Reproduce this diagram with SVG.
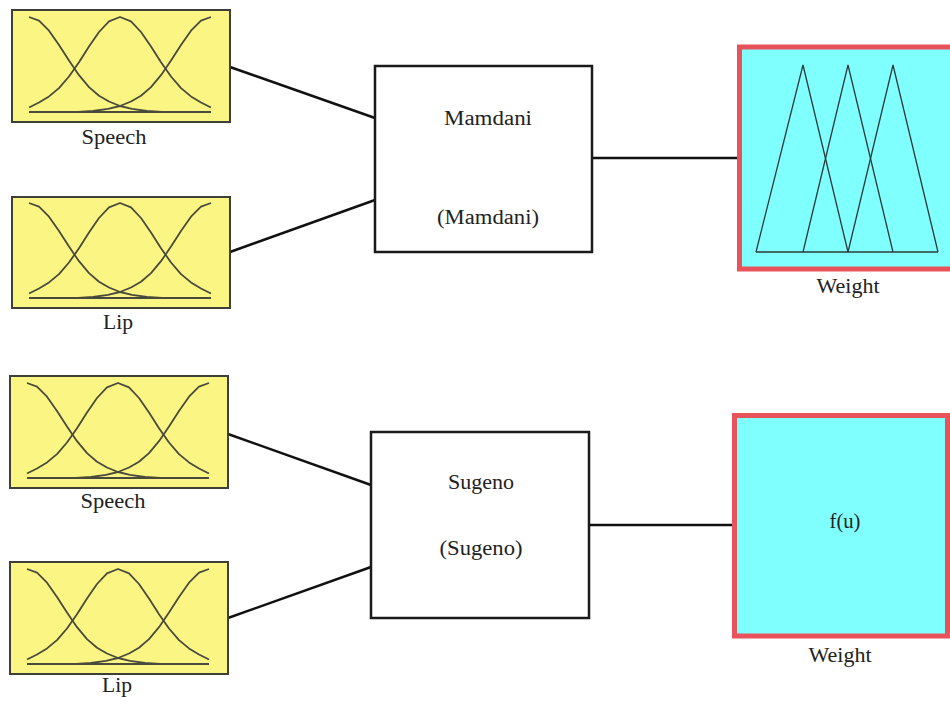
<svg xmlns="http://www.w3.org/2000/svg" xmlns:xlink="http://www.w3.org/1999/xlink" width="950" height="704" viewBox="0 0 950 704">
<style>
  .inbox { fill: #FBF684; stroke: #3f3f3a; stroke-width: 2; }
  .mf { fill: none; stroke: #4a4a3c; stroke-width: 1.8; stroke-linejoin: round; }
  .sys { fill: #ffffff; stroke: #1a1a1a; stroke-width: 2.5; }
  .out { fill: #80FFFF; stroke: #E8535B; stroke-width: 5; }
  .tri { fill: none; stroke: #2a3a3a; stroke-width: 1.3; stroke-linejoin: miter; }
  .conn { stroke: #111; stroke-width: 2.5; fill: none; }
  .lbl { font-family: "Liberation Serif", "Times New Roman", serif; font-size: 20.5px; fill: #222; text-anchor: middle; }
</style>
<defs>
  <g id="gauss3">
    <polyline class="mf" points="17,102 199,102"/>
    <polyline class="mf" points="17,97.5 27,92.5 37,86.4 47,78.1 57,66.5 67,52.2 77,36.5 87,22 97,11.4 108,7 119,11.4 129,22 139,36.5 149,52.2 159,66.5 169,78.1 179,86.4 189,92.5 199,97.5"/>
    <polyline class="mf" points="17,7 27,10.6 37,20.7 47,35 57,50.6 67,65.2 77,77.1 87,85.7 97,91.5 108,96 120,98.8 135,101 150,102 199,102"/>
    <polyline class="mf" points="199,7 189,10.6 179,20.7 169,35 159,50.6 149,65.2 139,77.1 129,85.7 119,91.5 108,96 96,98.8 81,101 66,102 17,102"/>
  </g>
</defs>

<g id="connectors">
  <line class="conn" x1="230" y1="67" x2="375" y2="118"/>
  <line class="conn" x1="230" y1="252" x2="375" y2="200"/>
  <line class="conn" x1="592" y1="158" x2="737" y2="158" stroke-width="2"/>
  <line class="conn" x1="228" y1="434" x2="371" y2="485"/>
  <line class="conn" x1="228" y1="618" x2="371" y2="567"/>
  <line class="conn" x1="589" y1="525" x2="732" y2="525" stroke-width="2"/>
</g>

<g id="speech1">
  <rect class="inbox" x="12" y="10" width="218" height="112"/>
  <use xlink:href="#gauss3" href="#gauss3" x="12" y="10"/>
  <text class="lbl" x="114" y="144" textLength="65" lengthAdjust="spacingAndGlyphs">Speech</text>
</g>

<g id="lip1">
  <rect class="inbox" x="12" y="197" width="218" height="111"/>
  <use xlink:href="#gauss3" href="#gauss3" x="12" y="196"/>
  <text class="lbl" x="118" y="329" textLength="30" lengthAdjust="spacingAndGlyphs">Lip</text>
</g>

<g id="mamdani">
  <rect class="sys" x="375" y="66" width="217" height="186"/>
  <text class="lbl" x="488" y="125" textLength="88" lengthAdjust="spacingAndGlyphs">Mamdani</text>
  <text class="lbl" x="488" y="224" textLength="102" lengthAdjust="spacingAndGlyphs">(Mamdani)</text>
</g>

<g id="weight1">
  <rect class="out" x="739.5" y="47" width="220" height="222"/>
  <polyline class="tri" points="756,252 803,65 848,252"/>
  <polyline class="tri" points="803,252 848,65 893,252"/>
  <polyline class="tri" points="848,252 893,65 938,252"/>
  <line class="tri" x1="756" y1="252" x2="938" y2="252"/>
  <text class="lbl" x="848" y="293" textLength="63" lengthAdjust="spacingAndGlyphs">Weight</text>
</g>

<g id="speech2">
  <rect class="inbox" x="10" y="376" width="218" height="112"/>
  <use xlink:href="#gauss3" href="#gauss3" x="10" y="376"/>
  <text class="lbl" x="113" y="508" textLength="65" lengthAdjust="spacingAndGlyphs">Speech</text>
</g>

<g id="lip2">
  <rect class="inbox" x="10" y="562" width="218" height="112"/>
  <use xlink:href="#gauss3" href="#gauss3" x="10" y="562"/>
  <text class="lbl" x="117" y="692" textLength="30" lengthAdjust="spacingAndGlyphs">Lip</text>
</g>

<g id="sugeno">
  <rect class="sys" x="371" y="432" width="218" height="186"/>
  <text class="lbl" x="481" y="489" textLength="66" lengthAdjust="spacingAndGlyphs">Sugeno</text>
  <text class="lbl" x="481" y="555" textLength="83" lengthAdjust="spacingAndGlyphs">(Sugeno)</text>
</g>

<g id="weight2">
  <rect class="out" x="734.5" y="415.5" width="213" height="220.5"/>
  <text class="lbl" x="845" y="528" textLength="31" lengthAdjust="spacingAndGlyphs">f(u)</text>
  <text class="lbl" x="840" y="662" textLength="63" lengthAdjust="spacingAndGlyphs">Weight</text>
</g>
</svg>
